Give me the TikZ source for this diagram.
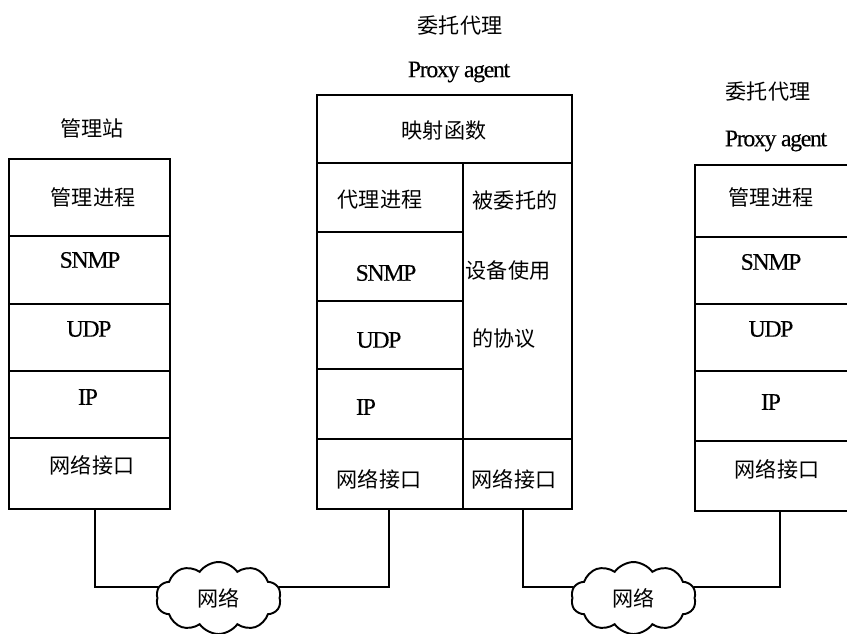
\documentclass[tikz,border=0pt]{standalone}
\usepackage{fontspec}
\setmainfont[LetterSpace=-5.5,FakeBold=.3]{Liberation Serif}
\newfontfamily\cjk{Noto Sans CJK SC}
\usetikzlibrary{fit,shapes.symbols}
\tikzset{
  cell/.style={draw,rectangle,inner sep=0pt,line width=1.1pt},
  tag/.style={inner sep=0pt,font=\fontsize{13.5}{15}\selectfont},
  hanzi/.style={inner sep=0pt,font=\cjk\fontsize{12}{14}\selectfont},
  wire/.style={line width=1.1pt,line join=miter},
  netcloud/.style={draw,cloud,cloud puffs=10,cloud puff arc=110,aspect=1.7,
    inner sep=0pt,minimum width=2.5cm,minimum height=1.44cm,line width=1.1pt,
    font=\cjk\fontsize{12}{14}\selectfont}
}
\begin{document}
\begin{tikzpicture}[x=.02cm,y=-.02cm]
  \useasboundingbox (0,0) rectangle (847,633);
  \clip (0,0) rectangle (847,633);
  % Left stack.
  \foreach \nm/\tp/\bt in {proc/159/236,snmp/236/304,udp/304/371,ip/371/438,iface/438/509}{
    \node[cell,fit={(9,\tp)(170,\bt)}] (left\nm) {};
  }
  % Middle stack.
  \node[cell,fit={(317,95)(572,163)}] (midmap) {};
  \foreach \nm/\tp/\bt in {proc/163/232,snmp/232/301,udp/301/369,ip/369/439,iface/439/509}{
    \node[cell,fit={(317,\tp)(463,\bt)}] (mid\nm) {};
  }
  \node[cell,fit={(463,163)(572,439)}] (midother) {};
  \node[cell,fit={(463,439)(572,509)}] (midifacetwo) {};
  % Right stack, its far side is cut off by the page.
  \foreach \nm/\tp/\bt in {proc/165/237,snmp/237/304,udp/304/371,ip/371/441,iface/441/511}{
    \node[cell,fit={(695,\tp)(860,\bt)}] (right\nm) {};
  }
  % Texts.
  \foreach \nm/\x/\y/\txt in {tmgr/92/128/管理站,tmgrp/93/197/管理进程,tmgri/92/465/网络接口,
    tproxya/460/26/委托代理,tmap/444/131/映射函数,tagp/380/200/代理进程,tdev/515/200/被委托的,
    tdevb/508/270/设备使用,tdevc/504/339/的协议,tmidi/379/479/网络接口,tmidj/514/479/网络接口,
    tproxyb/768/92/委托代理,trp/771/197/管理进程,tri/777/469/网络接口}{
    \node[hanzi] (\nm) at (\x,\y) {\txt};
  }
  \foreach \nm/\x/\y/\txt in {tpa/459/72/Proxy agent,tlsnmp/90/260/SNMP,tludp/89/329/UDP,tlip/88/397/IP,
    tmsnmp/386/273/SNMP,tmudp/379/340/UDP,tmip/366/407/IP,
    tpb/776/141/Proxy agent,trsnmp/771/262/SNMP,trudp/771/329/UDP,trip/771/402/IP}{
    \node[tag] (\nm) at (\x,\y) {\txt};
  }
  % Networks and links.
  \node[netcloud] (neta) at (218.5,598) {网络};
  \node[netcloud] (netb) at (633.5,598) {网络};
  \coordinate (tapa) at (95,509);
  \coordinate (tapb) at (389,509);
  \coordinate (tapc) at (523,509);
  \coordinate (tapd) at (780,511);
  \draw[wire] (tapa) |- (neta.170);
  \draw[wire] (tapb) |- (neta.10);
  \draw[wire] (tapc) |- (netb.170);
  \draw[wire] (tapd) |- (netb.10);
\end{tikzpicture}
\end{document}
